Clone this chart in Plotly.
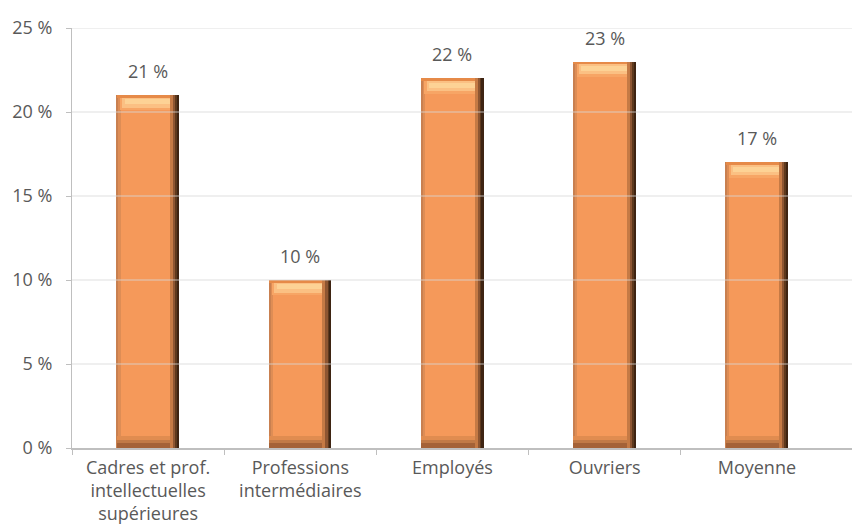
import plotly.graph_objects as go

# Part de chaque catégorie socioprofessionnelle (en %)
categories = ["Cadres et prof.<br>intellectuelles<br>supérieures",
              "Professions<br>intermédiaires",
              "Employés", "Ouvriers", "Moyenne"]
values = [21, 10, 22, 23, 17]
y_ticks = [0, 5, 10, 15, 20, 25]
y_tick_labels = ["0 %", "5 %", "10 %", "15 %", "20 %", "25 %"]

FONT = "Open Sans"
TEXT = "#595959"
AXIS = "#bfbfbf"
GRID = "#d9d9d9"
FS = 18

xs = list(range(len(categories)))
n = len(values)
W = 0.41          # bar width in category units
HALF = W / 2

fig = go.Figure()

def strip(y, base, width, offset, color):
    fig.add_trace(go.Bar(
        x=xs, y=y, base=base, width=width, offset=offset,
        marker=dict(color=color, line=dict(width=0)),
        hoverinfo="skip", showlegend=False))

zeros = [0] * n
# main body
strip(values, zeros, W, -HALF, "#F5995A")
# soft left edge
strip(values, zeros, 0.025, -HALF, "#DE8D55")
strip(values, zeros, 0.01, -HALF, "#C98050")
# bottom bevel (dark band fading up into the body)
strip([0.7] * n, zeros, W, -HALF, "#E08C50")
strip([0.5] * n, zeros, W, -HALF, "#C17A47")
strip([0.3] * n, zeros, W, -HALF, "#A46238")
# top bevel: thin darker rim, then a pale highlight band
strip([0.9] * n, [v - 0.9 for v in values], W - 0.04, -HALF + 0.02, "#F7A565")
strip([0.6] * n, [v - 0.75 for v in values], W - 0.07, -HALF + 0.035, "#FBC083")
strip([0.3] * n, [v - 0.55 for v in values], W - 0.1, -HALF + 0.05, "#FDD295")
strip([0.15] * n, [v - 0.15 for v in values], W, -HALF, "#E68A48")
# shaded right edge
strip(values, zeros, 0.06, HALF - 0.06, "#C57A45")
strip(values, zeros, 0.04, HALF - 0.04, "#8E5632")
strip(values, zeros, 0.025, HALF - 0.025, "#5E391D")
strip(values, zeros, 0.012, HALF - 0.012, "#3E2412")

# value labels
for x, v in zip(xs, values):
    fig.add_annotation(x=x, y=v, text=f"{v} %", showarrow=False,
                       yanchor="bottom", yshift=10,
                       font=dict(family=FONT, size=FS, color=TEXT))

# gridlines drawn over the bars
for t in y_ticks[1:]:
    fig.add_shape(type="line", xref="paper", yref="y", x0=0, x1=1, y0=t, y1=t,
                  line=dict(color=GRID, width=1), layer="above", opacity=0.8)

# helper trace so the boundary-tick axis is rendered
fig.add_trace(go.Scatter(x=[-0.5], y=[0], xaxis="x2", mode="markers",
                         marker=dict(opacity=0), hoverinfo="skip", showlegend=False))

x_range = [-0.5, 4.625]

fig.update_layout(
    width=852, height=532,
    margin=dict(l=72, r=0, t=28, b=84),
    paper_bgcolor="white", plot_bgcolor="white",
    barmode="overlay", bargap=0,
    font=dict(family=FONT, size=FS, color=TEXT),
    xaxis=dict(range=x_range, tickvals=xs, ticktext=categories, ticks="",
               showgrid=False, zeroline=False, showline=True,
               linecolor=AXIS, linewidth=2, fixedrange=True,
               tickfont=dict(family=FONT, size=FS, color=TEXT),
               ticklabelstandoff=2),
    xaxis2=dict(range=x_range, overlaying="x", anchor="y", side="bottom",
                tickvals=[-0.5, 0.5, 1.5, 2.5, 3.5], ticks="outside",
                ticklen=6, tickcolor=AXIS, tickwidth=1,
                showticklabels=False, showgrid=False, zeroline=False,
                showline=False),
    yaxis=dict(range=[0, 25], tickvals=y_ticks, ticktext=y_tick_labels,
               ticks="outside", ticklen=5, tickcolor=AXIS,
               showgrid=False, zeroline=False, showline=True,
               linecolor=AXIS, linewidth=1,
               tickfont=dict(family=FONT, size=FS, color=TEXT),
               ticklabelstandoff=10),
)

fig.write_html("out.html")
